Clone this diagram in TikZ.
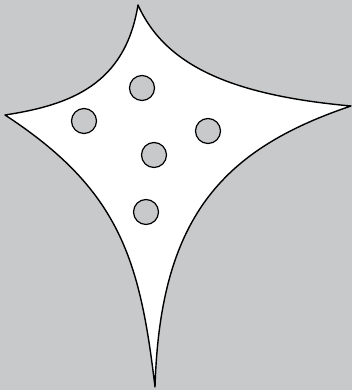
\documentclass[tikz,border=0pt]{standalone}
\usepackage{xcolor}
\usepackage{tikz}
\definecolor{bggray}{RGB}{200,201,203}
\definecolor{cellgray}{RGB}{200,201,203}

\begin{document}
\begin{tikzpicture}[
    x=1pt, y=-1pt,
    cellbody/.style={draw=black, fill=white, line width=1.4pt, line join=round},
    granule/.style={circle, draw=black, fill=cellgray, line width=1.2pt,
                    minimum size=25pt, inner sep=0pt}
]
% background
\fill[bggray] (0,0) rectangle (352,390);
\useasboundingbox (0,0) rectangle (352,390);
% tips of the cell
\coordinate (top) at (138,5);
\coordinate (right) at (351,106);
\coordinate (bottom) at (155,387);
\coordinate (left) at (5,115);
\path[cellbody] (top)
    .. controls (165,65) and (230,95) .. (right)
    .. controls (220,150) and (160,220) .. (bottom)
    .. controls (140,260) and (120,190) .. (left)
    .. controls (70,105) and (125,85) .. (top) -- cycle;
% granules
\node[granule] (g1) at (142,88) {};
\node[granule] (g2) at (84,121) {};
\node[granule] (g3) at (208,131) {};
\node[granule] (g4) at (154,155) {};
\node[granule] (g5) at (146,212) {};
\end{tikzpicture}
\end{document}
